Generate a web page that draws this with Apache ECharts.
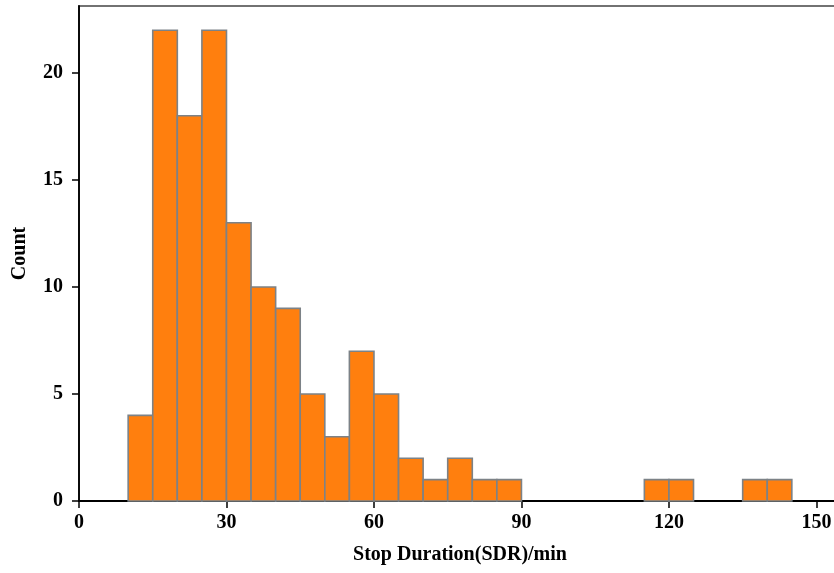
<!DOCTYPE html>
<html>
<head>
<meta charset="utf-8">
<script src="https://cdn.jsdelivr.net/npm/echarts@6/dist/echarts.min.js"></script>
<style>html,body{margin:0;padding:0;background:#fff}#c{width:834px;height:573px}</style>
</head>
<body>
<div id="c"></div>
<script>
// Histogram bins (start of bin, minutes), width 5
const binStarts = [10, 15, 20, 25, 30, 35, 40, 45, 50, 55, 60, 65, 70, 75, 80, 85, 115, 120, 135, 140];
const counts    = [4, 22, 18, 22, 13, 10, 9, 5, 3, 7, 5, 2, 1, 2, 1, 1, 1, 1, 1, 1];
const binWidth = 5;
const xTicks = [0, 30, 60, 90, 120, 150];
const yTicks = [0, 5, 10, 15, 20];

const data = binStarts.map((s, i) => [s, s + binWidth, counts[i]]);
const font = '"Liberation Serif", "Times New Roman", serif';

const chart = echarts.init(document.getElementById('c'));
chart.setOption({
  animation: false,
  grid: { left: 79, top: 6, width: 762, height: 495, containLabel: false, outerBoundsMode: 'none',
    show: true, borderColor: '#444', borderWidth: 1.5, backgroundColor: 'transparent' },
  xAxis: {
    type: 'value', min: 0, max: 155, interval: 30,
    name: 'Stop Duration(SDR)/min', nameLocation: 'middle', nameGap: 44,
    nameTextStyle: { fontFamily: font, fontWeight: 'bold', fontSize: 20, color: '#000' },
    axisLine: { show: true, onZero: false, lineStyle: { color: '#000', width: 1.8 } },
    axisTick: { show: true, length: 7, lineStyle: { color: '#000', width: 1.5 } },
    axisLabel: { fontFamily: font, fontWeight: 'bold', fontSize: 20, color: '#000', margin: 12,
      formatter: v => xTicks.includes(v) ? String(v) : '' },
    splitLine: { show: false }
  },
  yAxis: {
    type: 'value', min: 0, max: 23.13, interval: 5,
    name: 'Count', nameLocation: 'middle', nameGap: 49,
    nameTextStyle: { fontFamily: font, fontWeight: 'bold', fontSize: 20, color: '#000' },
    axisLine: { show: true, lineStyle: { color: '#000', width: 1.8 } },
    axisTick: { show: true, length: 7, lineStyle: { color: '#000', width: 1.5 },
      customValues: yTicks },
    axisLabel: { fontFamily: font, fontWeight: 'bold', fontSize: 20, color: '#000', margin: 16,
      customValues: yTicks,
      formatter: v => yTicks.includes(v) ? String(v) : '' },
    splitLine: { show: false }
  },
  series: [{
    type: 'custom',
    data: data,
    encode: { x: [0, 1], y: 2 },
    renderItem: function (params, api) {
      const p0 = api.coord([api.value(0), api.value(2)]);
      const p1 = api.coord([api.value(1), 0]);
      return {
        type: 'rect',
        shape: { x: p0[0], y: p0[1], width: p1[0] - p0[0], height: p1[1] - p0[1] },
        style: { fill: '#FF7F0E', stroke: '#7C8287', lineWidth: 1.6 }
      };
    }
  }]
});
</script>
</body>
</html>
